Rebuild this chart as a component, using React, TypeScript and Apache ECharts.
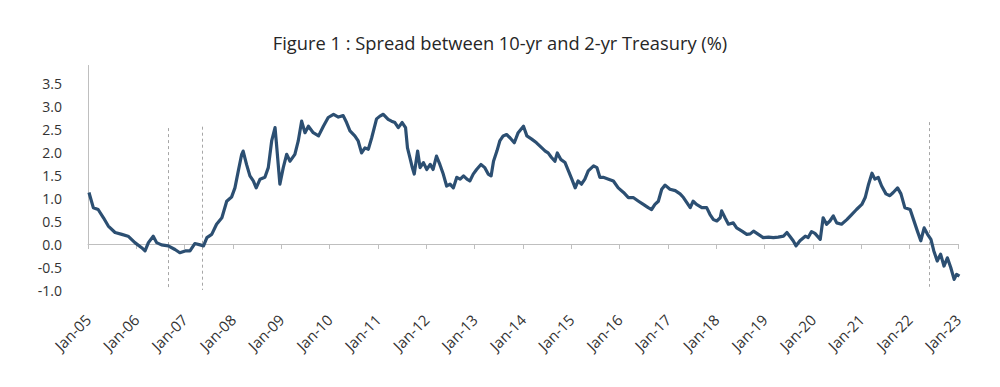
import React, { useEffect, useRef } from "react";
import * as echarts from "echarts";

const TITLE = "Figure 1 : Spread between 10-yr and 2-yr Treasury (%)";

const dates: number[] = [
  2005.02, 2005.11, 2005.21, 2005.32, 2005.42, 2005.56, 2005.7, 2005.83, 2005.97,
  2006.11, 2006.18, 2006.25, 2006.35, 2006.42, 2006.52, 2006.66, 2006.8, 2006.9,
  2007.01, 2007.11, 2007.21, 2007.32, 2007.39, 2007.46, 2007.56, 2007.66, 2007.77, 2007.87, 2007.97,
  2008.04, 2008.11, 2008.18, 2008.21, 2008.28, 2008.35, 2008.42, 2008.48, 2008.56, 2008.66, 2008.73, 2008.8, 2008.87, 2008.9, 2008.97,
  2009.04, 2009.11, 2009.18, 2009.28, 2009.35, 2009.42, 2009.49, 2009.56, 2009.66, 2009.77, 2009.87, 2009.97,
  2010.08, 2010.18, 2010.28, 2010.35, 2010.42, 2010.52, 2010.59, 2010.66, 2010.73, 2010.8, 2010.87, 2010.97,
  2011.04, 2011.11, 2011.21, 2011.28, 2011.35, 2011.42, 2011.5, 2011.57, 2011.61, 2011.66, 2011.71, 2011.75, 2011.82, 2011.87, 2011.94,
  2012.01, 2012.08, 2012.14, 2012.21, 2012.28, 2012.35, 2012.42, 2012.49, 2012.56, 2012.63, 2012.7, 2012.77, 2012.84, 2012.9, 2012.97,
  2013.04, 2013.13, 2013.21, 2013.28, 2013.34, 2013.39, 2013.46, 2013.52, 2013.59, 2013.66, 2013.73, 2013.82, 2013.9,
  2014.01, 2014.08, 2014.18, 2014.28, 2014.39, 2014.46, 2014.52, 2014.59, 2014.66, 2014.71, 2014.78, 2014.87, 2014.94,
  2015.01, 2015.08, 2015.14, 2015.21, 2015.28, 2015.35, 2015.46, 2015.53, 2015.59, 2015.66, 2015.77, 2015.87, 2015.97,
  2016.08, 2016.18, 2016.28, 2016.39, 2016.49, 2016.59, 2016.66, 2016.73, 2016.8, 2016.87, 2016.94,
  2017.04, 2017.15, 2017.25, 2017.32, 2017.39, 2017.46, 2017.52, 2017.59, 2017.7, 2017.8, 2017.87, 2017.94,
  2018.01, 2018.08, 2018.11, 2018.18, 2018.25, 2018.35, 2018.42, 2018.53, 2018.63, 2018.7, 2018.77, 2018.87, 2018.97,
  2019.08, 2019.18, 2019.28, 2019.39, 2019.46, 2019.52, 2019.59, 2019.65, 2019.73, 2019.84, 2019.9, 2019.97,
  2020.04, 2020.15, 2020.21, 2020.28, 2020.35, 2020.42, 2020.49, 2020.59, 2020.7, 2020.8, 2020.9,
  2021.01, 2021.08, 2021.15, 2021.22, 2021.28, 2021.35, 2021.42, 2021.51, 2021.59, 2021.66, 2021.75, 2021.82, 2021.9,
  2022.01, 2022.08, 2022.16, 2022.23, 2022.3, 2022.37, 2022.44, 2022.5, 2022.57, 2022.64, 2022.71, 2022.78, 2022.85, 2022.92, 2022.97,
  2023.03,
];

const spread: number[] = [
  1.12, 0.79, 0.75, 0.57, 0.39, 0.25, 0.21, 0.17, 0.03,
  -0.08, -0.15, 0.03, 0.17, 0.03, -0.02, -0.04, -0.12, -0.19,
  -0.15, -0.15, 0.01, -0.02, -0.04, 0.14, 0.21, 0.43, 0.57, 0.93, 1.02,
  1.22, 1.59, 1.95, 2.02, 1.73, 1.48, 1.37, 1.22, 1.41, 1.45, 1.66, 2.24, 2.53, 2.17, 1.3,
  1.66, 1.95, 1.8, 1.95, 2.24, 2.67, 2.42, 2.56, 2.42, 2.35, 2.56, 2.75,
  2.82, 2.76, 2.79, 2.64, 2.46, 2.35, 2.24, 1.98, 2.09, 2.06, 2.31, 2.72,
  2.78, 2.82, 2.71, 2.67, 2.64, 2.53, 2.64, 2.53, 2.09, 1.88, 1.66, 1.52, 2.02, 1.66, 1.77,
  1.62, 1.73, 1.62, 1.91, 1.73, 1.52, 1.26, 1.3, 1.22, 1.45, 1.41, 1.48, 1.41, 1.37, 1.52,
  1.62, 1.73, 1.66, 1.52, 1.48, 1.8, 2.02, 2.24, 2.35, 2.38, 2.31, 2.2, 2.42,
  2.56, 2.35, 2.28, 2.2, 2.09, 2.02, 1.98, 1.88, 1.8, 1.98, 1.84, 1.77, 1.59,
  1.41, 1.22, 1.37, 1.3, 1.41, 1.59, 1.7, 1.66, 1.45, 1.45, 1.41, 1.37, 1.22,
  1.12, 1.01, 1.01, 0.93, 0.86, 0.79, 0.75, 0.86, 0.93, 1.19, 1.28,
  1.19, 1.16, 1.09, 1.01, 0.9, 0.79, 0.93, 0.86, 0.79, 0.79, 0.64, 0.53,
  0.5, 0.57, 0.72, 0.57, 0.43, 0.46, 0.35, 0.28, 0.21, 0.22, 0.28, 0.21, 0.14,
  0.15, 0.14, 0.15, 0.17, 0.25, 0.17, 0.07, -0.04, 0.07, 0.17, 0.14, 0.27,
  0.23, 0.1, 0.57, 0.43, 0.5, 0.61, 0.46, 0.43, 0.53, 0.64, 0.75,
  0.86, 1.01, 1.3, 1.54, 1.41, 1.45, 1.26, 1.09, 1.05, 1.12, 1.22, 1.09, 0.79,
  0.75, 0.53, 0.28, 0.07, 0.35, 0.21, 0.1, -0.15, -0.37, -0.22, -0.48, -0.3, -0.51, -0.77, -0.66,
  -0.7,
];

// Vertical dashed reference lines: x (year), top value, bottom value
const refLinesX: number[] = [2006.66, 2007.36, 2022.4];
const refLinesTop: number[] = [2.52, 2.55, 2.65];
const refLinesBottom: number[] = [-1.0, -1.0, -0.93];

const X_MIN = 2005;
const X_MAX = 2023;
const Y_MIN = -1.0;
const Y_MAX = 3.9;

const App: React.FC = () => {
  const ref = useRef<HTMLDivElement>(null);

  useEffect(() => {
    if (!ref.current) return;
    const chart = echarts.init(ref.current, undefined, { renderer: "svg" });
    const font = "'Open Sans', 'Noto Sans', sans-serif";

    const markData: any[] = [
      [
        { coord: [X_MIN, 0], lineStyle: { type: "solid", color: "#bfbfbf", width: 1 } },
        { coord: [X_MIN, Y_MAX - 0.01] },
      ],
      ...refLinesX.map((x, i) => [
        { coord: [x, refLinesTop[i]], lineStyle: { type: [3, 3], color: "#a6a6a6", width: 1 } },
        { coord: [x, refLinesBottom[i]] },
      ]),
    ];

    chart.setOption({
      animation: false,
      backgroundColor: "#ffffff",
      title: {
        text: TITLE,
        left: "center",
        top: 20,
        textStyle: { fontFamily: font, fontSize: 18.3, fontWeight: "normal", color: "#262626" },
      },
      grid: { left: 80, right: 34, top: 56.6, bottom: 97 },
      xAxis: {
        type: "value",
        min: X_MIN,
        max: X_MAX,
        interval: 1,
        axisLine: { show: true, onZero: true, lineStyle: { color: "#bfbfbf", width: 1 } },
        axisTick: { show: true, length: 5, lineStyle: { color: "#bfbfbf" } },
        splitLine: { show: false },
        axisLabel: {
          rotate: 45,
          margin: 27,
          fontFamily: font,
          fontSize: 15,
          color: "#333333",
          formatter: (v: number) => "Jan-" + String(Math.round(v) % 100).padStart(2, "0"),
        },
      },
      yAxis: {
        type: "value",
        min: Y_MIN,
        max: Y_MAX,
        interval: 0.5,
        axisLine: { show: false },
        axisTick: { show: false },
        splitLine: { show: false },
        axisLabel: {
          showMaxLabel: false,
          margin: 26,
          fontFamily: font,
          fontSize: 14,
          color: "#333333",
          formatter: (v: number) => v.toFixed(1),
        },
      },
      series: [
        {
          type: "line",
          data: dates.map((d, i) => [d, spread[i]]),
          showSymbol: false,
          symbol: "none",
          clip: false,
          lineStyle: { color: "#2c4f72", width: 3.2, join: "round" },
          z: 3,
          markLine: {
            silent: true,
            symbol: "none",
            label: { show: false },
            emphasis: { disabled: true },
            data: markData,
            z: 1,
          },
        },
      ],
    });

    return () => chart.dispose();
  }, []);

  return <div ref={ref} style={{ width: 984, height: 379 }} />;
};

export default App;
